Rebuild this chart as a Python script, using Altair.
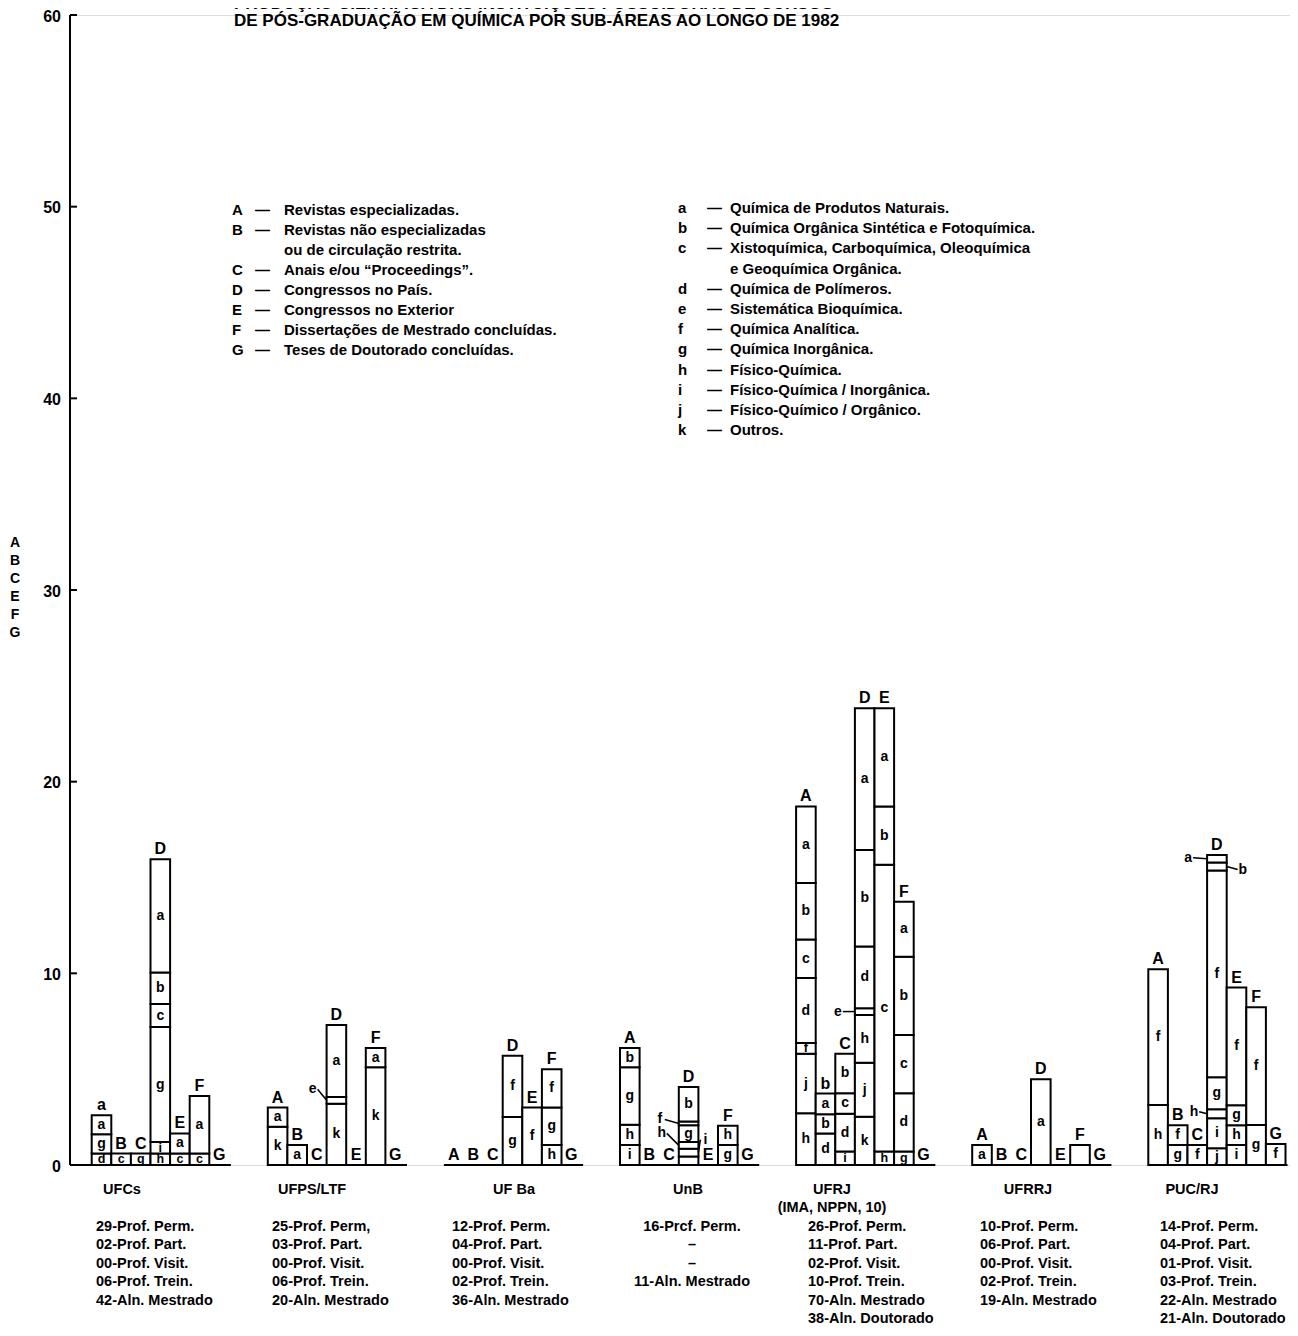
import altair as alt
import pandas as pd

# ---------------- data ----------------
groups = ["UFCs", "UFPS/LTF", "UF Ba", "UnB", "UFRJ", "UFRRJ", "PUC/RJ"]
group_sublines = ["", "", "", "", "(IMA, NPPN, 10)", "", ""]
categories = ["A", "B", "C", "D", "E", "F", "G"]
category_labels = [
    ["a", "B", "C", "D", "E", "F", "G"],
    ["A", "B", "C", "D", "E", "F", "G"],
    ["A", "B", "C", "D", "E", "F", "G"],
    ["A", "B", "C", "D", "E", "F", "G"],
    ["A", "b", "C", "D", "E", "F", "G"],
    ["A", "B", "C", "D", "E", "F", "G"],
    ["A", "B", "C", "D", "E", "F", "G"],
]

# stacked cells, bottom to top: (sub-area, value)
ufcs = {"A": [("d", 0.6), ("g", 1.0), ("a", 1.0)],
        "B": [("c", 0.6)],
        "C": [("g", 0.6)],
        "D": [("h", 0.6), ("i", 0.6), ("g", 6.0), ("c", 1.2), ("b", 1.65), ("a", 5.9)],
        "E": [("c", 0.6), ("a", 1.05)],
        "F": [("c", 0.6), ("a", 3.0)],
        "G": []}
ufps = {"A": [("k", 2.0), ("a", 1.0)],
        "B": [("a", 1.05)],
        "C": [],
        "D": [("k", 3.2), ("e", 0.35), ("a", 3.75)],
        "E": [],
        "F": [("k", 5.1), ("a", 1.0)],
        "G": []}
ufba = {"A": [], "B": [], "C": [],
        "D": [("g", 2.5), ("f", 3.2)],
        "E": [("f", 3.0)],
        "F": [("h", 1.05), ("g", 1.95), ("f", 2.0)],
        "G": []}
unb = {"A": [("i", 1.05), ("h", 1.05), ("g", 3.0), ("b", 1.0)],
       "B": [], "C": [],
       "D": [("", 0.45), ("i", 0.4), ("h", 0.35), ("g", 0.87), ("f", 0.2), ("b", 1.8)],
       "E": [],
       "F": [("g", 1.05), ("h", 1.0)],
       "G": []}
ufrj = {"A": [("h", 2.7), ("j", 3.1), ("f", 0.56), ("d", 3.4), ("c", 2.0), ("b", 2.95), ("a", 4.0)],
        "B": [("d", 1.65), ("b", 1.0), ("a", 1.08)],
        "C": [("i", 0.7), ("d", 1.97), ("c", 1.08), ("b", 2.05)],
        "D": [("k", 2.52), ("j", 2.82), ("h", 2.49), ("e", 0.35), ("d", 3.22), ("b", 5.04), ("a", 7.39)],
        "E": [("h", 0.7), ("c", 14.96), ("b", 3.04), ("a", 5.13)],
        "F": [("g", 0.7), ("d", 3.04), ("c", 3.04), ("b", 4.09), ("a", 2.87)],
        "G": []}
ufrrj = {"A": [("a", 1.05)], "B": [], "C": [],
         "D": [("a", 4.47)],
         "E": [],
         "F": [("", 1.05)],
         "G": []}
puc = {"A": [("h", 3.13), ("f", 7.08)],
       "B": [("g", 1.04), ("f", 1.04)],
       "C": [("f", 1.04)],
       "D": [("j", 0.87), ("i", 1.57), ("h", 0.47), ("g", 1.67), ("f", 10.78), ("b", 0.42), ("a", 0.4)],
       "E": [("i", 1.04), ("h", 1.04), ("g", 1.04), ("f", 6.14)],
       "F": [("g", 2.09), ("f", 6.14)],
       "G": [("f", 1.1)]}
group_data = [ufcs, ufps, ufba, unb, ufrj, ufrrj, puc]

staff = [
    ["29-Prof. Perm.", "02-Prof. Part.", "00-Prof. Visit.", "06-Prof. Trein.", "42-Aln. Mestrado"],
    ["25-Prof. Perm,", "03-Prof. Part.", "00-Prof. Visit.", "06-Prof. Trein.", "20-Aln. Mestrado"],
    ["12-Prof. Perm.", "04-Prof. Part.", "00-Prof. Visit.", "02-Prof. Trein.", "36-Aln. Mestrado"],
    ["16-Prcf. Perm.", "\u2013", "\u2013", "11-Aln. Mestrado"],
    ["26-Prof. Perm.", "11-Prof. Part.", "02-Prof. Visit.", "10-Prof. Trein.", "70-Aln. Mestrado", "38-Aln. Doutorado"],
    ["10-Prof. Perm.", "06-Prof. Part.", "00-Prof. Visit.", "02-Prof. Trein.", "19-Aln. Mestrado"],
    ["14-Prof. Perm.", "04-Prof. Part.", "01-Prof. Visit.", "03-Prof. Trein.", "22-Aln. Mestrado", "21-Aln. Doutorado"],
]

left_legend_keys = ["A", "B", "", "C", "D", "E", "F", "G"]
left_legend_texts = ["Revistas especializadas.", "Revistas não especializadas",
                     "ou de circulação restrita.", "Anais e/ou \u201cProceedings\u201d.",
                     "Congressos no País.", "Congressos no Exterior",
                     "Dissertações de Mestrado concluídas.", "Teses de Doutorado concluídas."]
right_legend_keys = ["a", "b", "c", "", "d", "e", "f", "g", "h", "i", "j", "k"]
right_legend_texts = ["Química de Produtos Naturais.", "Química Orgânica Sintética e Fotoquímica.",
                      "Xistoquímica, Carboquímica, Oleoquímica", "e Geoquímica Orgânica.",
                      "Química de Polímeros.", "Sistemática Bioquímica.", "Química Analítica.",
                      "Química Inorgânica.", "Físico-Química.", "Físico-Química / Inorgânica.",
                      "Físico-Químico / Orgânico.", "Outros."]

title_lines = ["PRODUÇÃO CIENTÍFICA DAS INSTITUIÇÕES POSSUIDORAS DE CURSOS",
               "DE PÓS-GRADUAÇÃO EM QUÍMICA POR SUB-ÁREAS AO LONGO DE 1982"]
y_title_letters = ["A", "B", "C", "E", "F", "G"]
y_ticks = [0, 10, 20, 30, 40, 50, 60]

# small cells labelled outside with a leader: (group, category, sub, side, dx px, dy px up)
outside_labels = [
    (1, "D", "e", "left", -14, 11),
    (4, "D", "e", "left", -17, 0),
    (3, "D", "f", "left", -19, 4),
    (3, "D", "h", "left", -17, 12),
    (3, "D", "i", "right", 7, 13),
    (6, "D", "a", "left", -19, 1),
    (6, "D", "b", "right", 16, -3),
    (6, "D", "h", "left", -13, 2),
]

# ---------------- layout ----------------
W, H = 1220, 1150
PPU = H / 60.0          # pixels per unit
SLOT = 19.6
STEP = 176.1
START0 = 21.7
FONT = "Liberation Sans"
name_x = [122, 312, 514, 688, 832, 1028, 1192]
staff_x = [96, 272, 452, 692, 808, 980, 1160]
staff_align = ["left", "left", "left", "center", "left", "left", "left"]
PLOT_L, PLOT_T = 70, 15

# ---------------- frames ----------------
cells, cat_lab, cell_lab, bases = [], [], [], []
outside_keys = {(g, c, s) for g, c, s, *_ in outside_labels}
cell_pos = {}
for gi, gd in enumerate(group_data):
    gx = START0 + STEP * gi
    bases.append(dict(x=0 if gi == 0 else gx, x2=gx + 7 * SLOT + 2, y=0))
    for ci, cat in enumerate(categories):
        cum = 0.0
        x0, x1 = gx + ci * SLOT, gx + (ci + 1) * SLOT
        for sub, v in gd[cat]:
            cells.append(dict(x=x0, x2=x1, y0=cum, y1=cum + v))
            cell_pos[(gi, cat, sub)] = (x0, x1, cum + v / 2)
            if sub and v >= 0.5 and (gi, cat, sub) not in outside_keys:
                cell_lab.append(dict(x=(x0 + x1) / 2, y=cum + v / 2, t=sub,
                                     s=12.5 if v < 0.8 else 14))
            cum += v
        cat_lab.append(dict(x=(x0 + x1) / 2, y=cum, t=category_labels[gi][ci]))

ann_text, ann_rule = [], []
for g, c, s, side, dx, dy in outside_labels:
    x0, x1, ym = cell_pos[(g, c, s)]
    edge = x0 if side == "left" else x1
    ly = ym + dy / PPU
    ann_text.append(dict(x=edge + dx, y=ly, t=s))
    sgn = 1 if side == "left" else -1
    ann_rule.append(dict(x=edge + dx + sgn * 5, y=ly, x2=edge, y2=ym))

xs = alt.Scale(domain=[0, W])
ys = alt.Scale(domain=[0, 60], nice=False)
X = lambda f: alt.X(f, scale=xs, axis=None)
Y = lambda f: alt.Y(f, scale=ys, axis=None)

bars = alt.Chart(pd.DataFrame(cells)).mark_rect(
    fill="white", stroke="black", strokeWidth=2
).encode(x=X("x:Q"), x2="x2:Q", y=Y("y0:Q"), y2="y1:Q")

base_rules = alt.Chart(pd.DataFrame(bases)).mark_rule(color="black", strokeWidth=2).encode(
    x=X("x:Q"), x2="x2:Q", y=Y("y:Q"))

axis_df = pd.DataFrame({"y": y_ticks})
axis_line = alt.Chart(pd.DataFrame({"y": [0], "y2": [60]})).mark_rule(
    color="black", strokeWidth=2).encode(x=alt.value(0), y=Y("y:Q"), y2="y2:Q")
tick_rules = alt.Chart(pd.DataFrame({"y": y_ticks[1:]})).mark_rule(
    color="black", strokeWidth=2).encode(x=alt.value(0), x2=alt.value(7), y=Y("y:Q"))
axis_labels = alt.Chart(axis_df).mark_text(
    font=FONT, fontSize=16, fontWeight="bold", color="black", align="right",
    baseline="middle", dx=-9, dy=1.5
).encode(x=alt.value(0), y=Y("y:Q"), text="y:Q")

cell_text = alt.Chart(pd.DataFrame(cell_lab)).mark_text(
    font=FONT, fontWeight="bold", color="black", baseline="middle"
).encode(x=X("x:Q"), y=Y("y:Q"), text="t:N",
         size=alt.Size("s:Q", scale=None, legend=None))

cat_text = alt.Chart(pd.DataFrame(cat_lab)).mark_text(
    font=FONT, fontSize=16, fontWeight="bold", color="black", baseline="bottom", dy=-2
).encode(x=X("x:Q"), y=Y("y:Q"), text="t:N")

ann_t = alt.Chart(pd.DataFrame(ann_text)).mark_text(
    font=FONT, fontSize=14, fontWeight="bold", color="black", baseline="middle"
).encode(x=X("x:Q"), y=Y("y:Q"), text="t:N")

ann_r = alt.Chart(pd.DataFrame(ann_rule)).mark_rule(color="black", strokeWidth=1.5).encode(
    x=X("x:Q"), x2="x2:Q", y=Y("y:Q"), y2="y2:Q")


def px_text(rows, **kw):
    return alt.Chart(pd.DataFrame(rows)).mark_text(
        font=FONT, fontWeight="bold", color="black", baseline="middle", **kw
    ).encode(x=alt.X("px:Q", scale=None, axis=None),
             y=alt.Y("py:Q", scale=None, axis=None), text="t:N")


name_rows = []
for gi, g in enumerate(groups):
    name_rows.append(dict(px=name_x[gi] - PLOT_L, py=1190 - PLOT_T, t=g))
    if group_sublines[gi]:
        name_rows.append(dict(px=name_x[gi] - PLOT_L, py=1208 - PLOT_T, t=group_sublines[gi]))
names = px_text(name_rows, fontSize=14.5, align="center")

staff_layers = []
for align in ["left", "center"]:
    rows = []
    for gi, lines in enumerate(staff):
        if staff_align[gi] != align:
            continue
        for li, s in enumerate(lines):
            rows.append(dict(px=staff_x[gi] - PLOT_L, py=1227 + 18.4 * li - PLOT_T, t=s))
    staff_layers.append(px_text(rows, fontSize=14.5, align=align))

leg_rows_k, leg_rows_t = [], []
for i, (k, t) in enumerate(zip(left_legend_keys, left_legend_texts)):
    py = 210 + 20 * i - PLOT_T
    if k:
        leg_rows_k.append(dict(px=232 - PLOT_L, py=py, t=k))
        leg_rows_k.append(dict(px=255 - PLOT_L, py=py, t="\u2014"))
    leg_rows_t.append(dict(px=284 - PLOT_L, py=py, t=t))
for i, (k, t) in enumerate(zip(right_legend_keys, right_legend_texts)):
    py = 208 + 20.2 * i - PLOT_T
    if k:
        leg_rows_k.append(dict(px=678 - PLOT_L, py=py, t=k))
        leg_rows_k.append(dict(px=707 - PLOT_L, py=py, t="\u2014"))
    leg_rows_t.append(dict(px=730 - PLOT_L, py=py, t=t))
legend_k = px_text(leg_rows_k, fontSize=15, align="left")
legend_t = px_text(leg_rows_t, fontSize=15, align="left")

title_rows = [dict(px=234 - PLOT_L, py=4 - PLOT_T + 17 * i, t=s) for i, s in enumerate(title_lines)]
title = px_text(title_rows, fontSize=17, align="left")

ytitle_rows = [dict(px=15 - PLOT_L, py=543 + 18 * i - PLOT_T, t=s) for i, s in enumerate(y_title_letters)]
ytitle = px_text(ytitle_rows, fontSize=14, align="center")

chart = alt.layer(
    bars, base_rules, axis_line, tick_rules, axis_labels, cell_text, cat_text, ann_r, ann_t,
    names, *staff_layers, legend_k, legend_t, title, ytitle
).properties(
    width=W, height=H,
    padding={"left": 62, "top": 7, "right": 0, "bottom": 163},
    autosize=alt.AutoSizeParams(type="none"),
).configure_view(stroke=None).configure(background="white")

chart.save("out.html", embed_options={"renderer": "svg", "actions": False})
